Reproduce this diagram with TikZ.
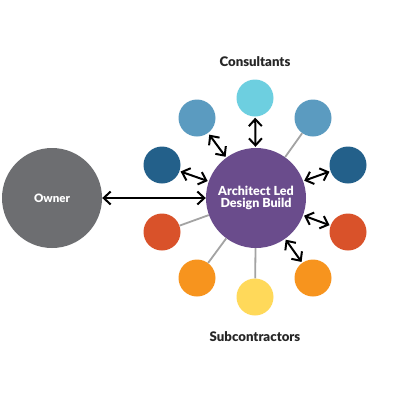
\documentclass[tikz,border=0pt]{standalone}
\usepackage{fontspec}
\setmainfont{Lato}[BoldFont={Lato Black}]
\usetikzlibrary{arrows.meta}
\definecolor{purp}{HTML}{6A4C8C}
\definecolor{owngray}{HTML}{6D6E71}
\definecolor{cyanl}{HTML}{6DCFE0}
\definecolor{steel}{HTML}{5B9BC0}
\definecolor{darkb}{HTML}{23608A}
\definecolor{redor}{HTML}{D9522A}
\definecolor{orng}{HTML}{F7941E}
\definecolor{yell}{HTML}{FFD95A}
\definecolor{linegray}{HTML}{A3A3A3}
\tikzset{
  big/.style={circle, minimum size=100pt, inner sep=0pt, text=white, font=\bfseries\fontsize{12.5}{14}\selectfont, align=center},
  small/.style={circle, minimum size=37pt, inner sep=0pt},
  link/.style={draw=linegray, line width=1.8pt},
  dbl/.style={draw=black, line width=2pt, {Straight Barb[length=7pt,width=13pt]}-{Straight Barb[length=7pt,width=13pt]}},
  title/.style={font=\bfseries\fontsize{13.2}{15}\selectfont, text=black!85}
}
\begin{document}
\begin{tikzpicture}[x=1pt,y=-1pt]
\useasboundingbox (0,0) rectangle (405,405);
\fill[white] (0,0) rectangle (405,405);
\node[title] (cons) at (255,62) {Consultants};
\node[title] (subc) at (255,337) {Subcontractors};
\node[big, fill=purp] (adb) at (256,198) {Architect Led\\[-2pt]Design Build};
\node[big, fill=owngray, font=\bfseries\fontsize{11.5}{13}\selectfont] (own) at (52,198) {Owner};
\node[small, fill=cyanl] (c1) at (255,98) {};
\node[small, fill=steel] (c2) at (197,118) {};
\node[small, fill=steel] (c3) at (313,118) {};
\node[small, fill=darkb] (c4) at (162,165) {};
\node[small, fill=darkb] (c5) at (348,165) {};
\node[small, fill=redor] (s1) at (162,232) {};
\node[small, fill=redor] (s2) at (348,232) {};
\node[small, fill=orng] (s3) at (197,278) {};
\node[small, fill=orng] (s4) at (313,278) {};
\node[small, fill=yell] (s5) at (255,297) {};
\draw[link] (c3) -- (adb);
\draw[link] (s1) -- (adb);
\draw[link] (s3) -- (adb);
\draw[link] (s5) -- (adb);
\draw[dbl, shorten <=1pt, shorten >=1pt] (c1) -- (adb);
\draw[dbl, shorten <=2pt, shorten >=1pt] (c2) -- (adb);
\draw[dbl, shorten <=1pt, shorten >=1pt] (c4) -- (adb);
\draw[dbl, shorten <=1pt, shorten >=1pt] (c5) -- (adb);
\draw[dbl, shorten <=1pt, shorten >=1pt] (s2) -- (adb);
\draw[dbl, shorten <=1pt, shorten >=1pt] (s4) -- (adb);
\draw[dbl] (own) -- (adb);
\end{tikzpicture}
\end{document}
